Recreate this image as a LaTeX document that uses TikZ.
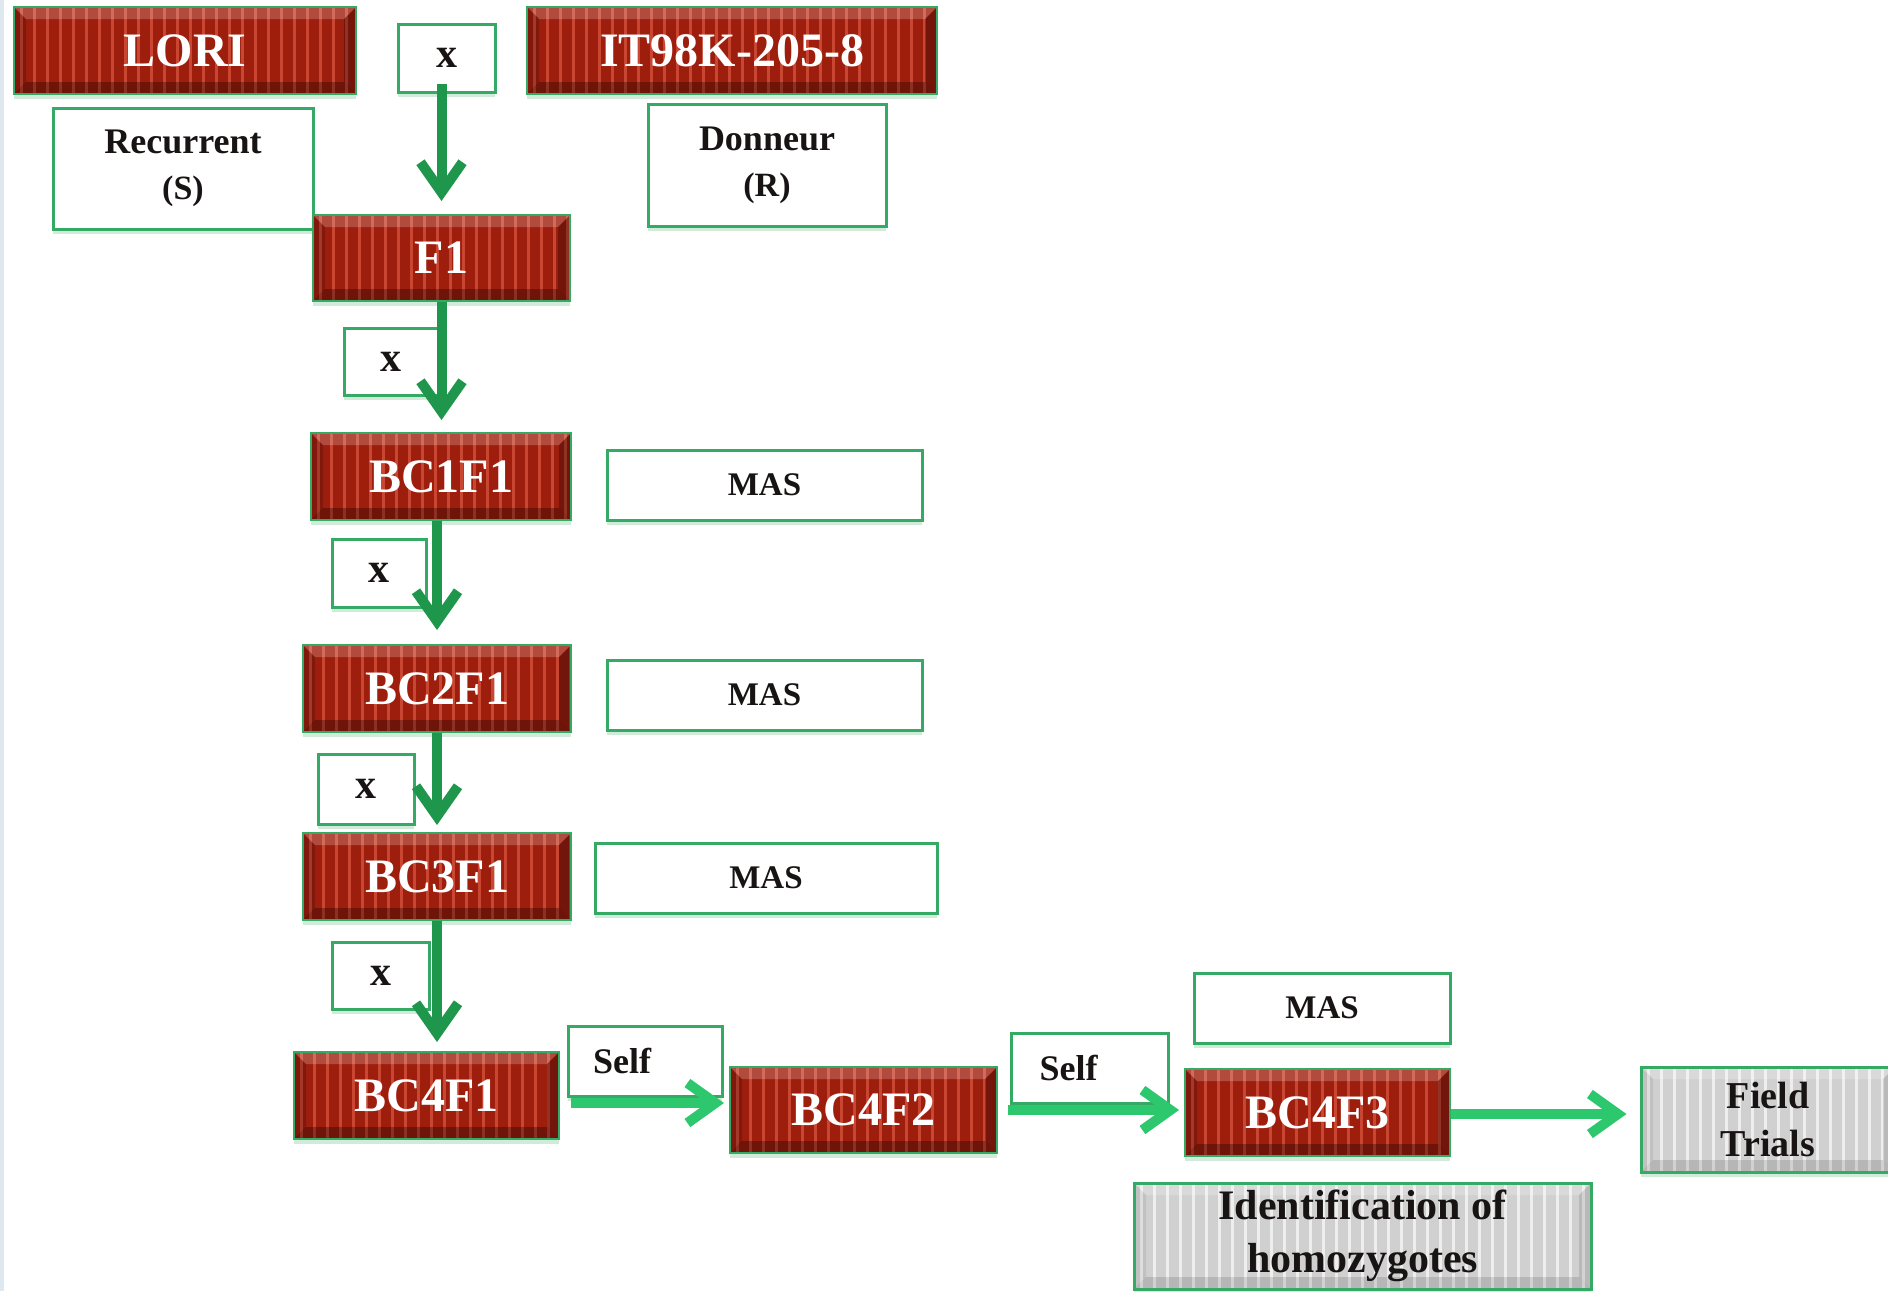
\documentclass[tikz,border=0pt]{standalone}
\usepackage{fontspec}
\setmainfont{Liberation Serif}
\usetikzlibrary{arrows.meta,shadows,calc}
\definecolor{boxgreen}{RGB}{52,170,100}
\definecolor{varrcol}{RGB}{30,150,75}
\definecolor{harrcol}{RGB}{45,200,110}
\definecolor{rbase}{RGB}{158,30,14}
\definecolor{rstripe}{RGB}{200,70,50}
\definecolor{gbase}{RGB}{208,208,208}
\definecolor{gstripe}{RGB}{238,238,238}
\definecolor{txtdark}{RGB}{25,20,20}
\definecolor{stripcol}{RGB}{222,232,238}
\newcommand\boxdeco[3]{%
  \path (path picture bounding box.south west) coordinate (pSW)
        (path picture bounding box.north west) coordinate (pNW)
        (path picture bounding box.north east) coordinate (pNE)
        (path picture bounding box.south east) coordinate (pSE);
  \fill[#2] (pSW) rectangle (pNE);
  \foreach \i in {0,...,40}{\fill[#1] ([xshift=\i*6.5pt+3pt]pSW) rectangle ([xshift=\i*6.5pt+4.3pt]pNW);}
  \fill[white,opacity=0.2] (pNW) -- (pNE) -- ([shift={(-6pt,-6pt)}]pNE) -- ([shift={(6pt,-6pt)}]pNW) -- cycle;
  \fill[black,opacity=#3*0.6] (pNW) -- (pSW) -- ([shift={(6pt,6pt)}]pSW) -- ([shift={(6pt,-6pt)}]pNW) -- cycle;
  \fill[black,opacity=#3*0.9] (pNE) -- (pSE) -- ([shift={(-6pt,6pt)}]pSE) -- ([shift={(-6pt,-6pt)}]pNE) -- cycle;
  \fill[black,opacity=#3] (pSW) -- (pSE) -- ([shift={(-6pt,6pt)}]pSE) -- ([shift={(6pt,6pt)}]pSW) -- cycle;
}
\tikzset{
  bx/.style={draw=boxgreen, line width=1.5pt, inner sep=0pt, align=center,
    drop shadow={shadow xshift=0pt, shadow yshift=-2.5pt, fill=boxgreen!45, opacity=0.5}},
  whitebox/.style={bx, fill=white, text=txtdark},
  redbox/.style={bx, line width=1pt, fill=rbase, text=white,
    font=\fontsize{24}{28}\selectfont\bfseries, path picture={\boxdeco{rstripe}{rbase}{0.3}}},
  graybox/.style={bx, fill=gbase, text=txtdark, path picture={\boxdeco{gstripe}{gbase}{0.12}}},
  xfont/.style={font=\fontsize{21}{24}\selectfont\bfseries},
  masfont/.style={font=\fontsize{16.5}{20}\selectfont\bfseries},
  labfont/.style={font=\fontsize{18}{23}\selectfont\bfseries},
  varr/.style={draw=varrcol, line width=5pt, -{Straight Barb[length=15pt,width=21pt]}},
  harr/.style={draw=harrcol, line width=5pt, -{Straight Barb[length=14pt,width=20pt]}},
}
\begin{document}
\begin{tikzpicture}[x=0.5pt,y=-0.5pt]
\useasboundingbox (0,0) rectangle (1888,1291);
\clip (0,0) rectangle (1888,1291);
\fill[white] (0,0) rectangle (1888,1291);
\fill[stripcol] (0,0) rectangle (4,1291);

% top row
\node[redbox, minimum width=171pt, minimum height=43.5pt] (lori) at (185,50.5) {LORI};
\node[whitebox, xfont, minimum width=48.5pt, minimum height=34pt] (xtop) at (446.5,58) {x};
\node[redbox, minimum width=205pt, minimum height=43.5pt] (it98) at (732,50.5) {IT98K-205-8};
\node[whitebox, labfont, minimum width=130pt, minimum height=60.5pt] (recur) at (183,168.5) {Recurrent\\{\fontsize{17}{23}\selectfont (S)}};
\node[whitebox, labfont, minimum width=119pt, minimum height=61pt] (donn) at (767,165) {Donneur\\{\fontsize{17}{23}\selectfont (R)}};

% main column
\node[redbox, minimum width=128.5pt, minimum height=43pt] (f1) at (441.5,258) {F1};
\node[whitebox, xfont, minimum width=47pt, minimum height=33.5pt] (x2) at (391,361.5) {x};
\node[redbox, minimum width=130pt, minimum height=43.5pt] (bc1) at (441,476.5) {BC1F1};
\node[whitebox, masfont, minimum width=157.5pt, minimum height=35pt] (mas1) at (764.5,485) {MAS};
\node[whitebox, xfont, minimum width=47pt, minimum height=34pt] (x3) at (379,573) {x};
\node[redbox, minimum width=134pt, minimum height=43.5pt] (bc2) at (437,688.5) {BC2F1};
\node[whitebox, masfont, minimum width=157.5pt, minimum height=35pt] (mas2) at (764.5,695) {MAS};
\node[whitebox, xfont, minimum width=48pt, minimum height=35pt] (x4) at (366,789) {x};
\node[redbox, minimum width=134pt, minimum height=43.5pt] (bc3) at (437,876.5) {BC3F1};
\node[whitebox, masfont, minimum width=171pt, minimum height=35pt] (mas3) at (766,878) {MAS};
\node[whitebox, xfont, minimum width=48.5pt, minimum height=33.5pt] (x5) at (380.5,975.5) {x};

% bottom row
\node[redbox, minimum width=132.5pt, minimum height=43.5pt] (bc41) at (426.5,1095.5) {BC4F1};
\node[whitebox, labfont, minimum width=77pt, minimum height=35pt] (self1) at (645,1061) {Self\hspace{23pt}};
\node[redbox, minimum width=133.5pt, minimum height=43pt] (bc42) at (863.5,1110) {BC4F2};
\node[whitebox, labfont, minimum width=78.5pt, minimum height=35pt] (self2) at (1089.5,1068) {Self\hspace{21pt}};
\node[whitebox, masfont, minimum width=128pt, minimum height=35pt] (mas4) at (1322,1008) {MAS};
\node[redbox, minimum width=132.5pt, minimum height=43.5pt] (bc43) at (1317.5,1112.5) {BC4F3};
\node[graybox, font=\fontsize{19}{24}\selectfont\bfseries, minimum width=127pt, minimum height=52.5pt] (field) at (1768,1119.5) {Field\\Trials};
\node[graybox, font=\fontsize{21}{26.5}\selectfont\bfseries, minimum width=228.5pt, minimum height=53pt] (ident) at (1362.5,1236) {Identification of\\homozygotes};

% vertical arrows
\draw[varr] ([yshift=5pt]xtop.south -| f1.north) -- ([yshift=6.5pt]f1.north);
\draw[varr] (f1.south) -- ([yshift=6pt]f1.south |- bc1.north);
\draw[varr] (bc1.south -| bc2.north) -- ([yshift=7pt]bc2.north);
\draw[varr] (bc2.south) -- ([yshift=3.5pt]bc3.north);
\draw[varr] (bc3.south) -- ([yshift=4.5pt]bc3.south |- bc41.north);

% horizontal arrows
\draw[harr] ($(bc41.east)+(11,7.5)$) -- ($(bc42.west)+(-5,-7)$);
\draw[harr] ($(bc42.east)+(10,0)$) -- ($(bc43.west)+(-5,-2.5)$);
\draw[harr] ($(bc43.east)+(0,1.5)$) -- ($(field.west)+(-13,-5.5)$);
\end{tikzpicture}
\end{document}
